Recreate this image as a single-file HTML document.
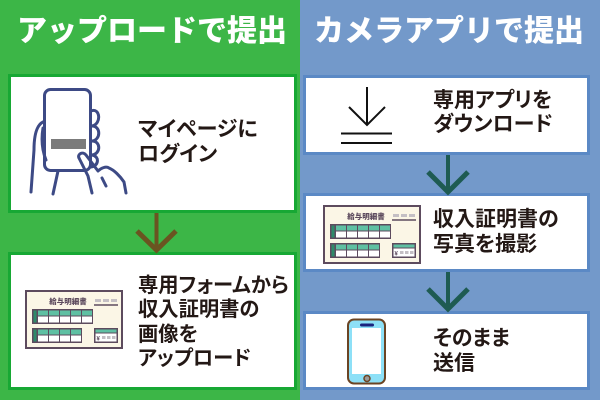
<!DOCTYPE html>
<html><head><meta charset="utf-8">
<style>
*{margin:0;padding:0;box-sizing:border-box}
html,body{width:600px;height:400px;overflow:hidden}
body{position:relative;font-family:"Liberation Sans","Noto Sans CJK JP",sans-serif}
.bgL{position:absolute;left:0;top:0;width:300px;height:400px;background:#3cb647}
.bgR{position:absolute;left:300px;top:0;width:300px;height:400px;background:#7399ca}
.title{position:absolute;top:17px;width:300px;text-align:center;color:#fff;font-size:30px;line-height:30px;font-weight:900;white-space:nowrap}
.box{position:absolute;background:#fff;border:3px solid #17a834}
.boxR{border-color:#5b89c5}
.t{position:absolute;color:#231815;font-size:21px;line-height:24.5px;font-weight:700;white-space:nowrap;font-feature-settings:"palt"}
svg{position:absolute;left:0;top:0}
</style></head><body>
<div class="bgL"></div>
<div class="bgR"></div>
<div class="title" style="left:2px">アップロードで提出</div>
<div class="title" style="left:299px">カメラアプリで提出</div>

<div class="box" style="left:8px;top:74px;width:289px;height:139px"></div>
<div class="box" style="left:8px;top:252px;width:289px;height:138px"></div>
<div class="box boxR" style="left:303px;top:75px;width:287px;height:80px"></div>
<div class="box boxR" style="left:303px;top:193px;width:287px;height:79px"></div>
<div class="box boxR" style="left:303px;top:311px;width:287px;height:79px"></div>

<div class="t" style="left:138px;top:118px">マイページに<br>ログイン</div>
<div class="t" style="left:138px;top:273.5px;font-size:20.3px">専用フォームから<br>収入証明書の<br>画像を<br>アップロード</div>
<div class="t" style="left:433px;top:88.5px">専用アプリを<br>ダウンロード</div>
<div class="t" style="left:433px;top:208px">収入証明書の<br>写真を撮影</div>
<div class="t" style="left:433px;top:327px">そのまま<br>送信</div>

<svg width="600" height="400" viewBox="0 0 600 400">
<defs>
<g id="slip">
<rect x="1" y="1" width="96" height="57" fill="#fbf6e6" stroke="#5d4b5e" stroke-width="2"/>
<text x="43" y="14" text-anchor="middle" font-family="Noto Sans CJK JP, sans-serif" font-size="7.5" font-weight="900" fill="#5d4b5e">給与明細書</text>
<rect x="70" y="9" width="6" height="3" fill="#c4bfc4"/>
<rect x="78" y="9" width="6" height="3" fill="#c4bfc4"/>
<rect x="86" y="9" width="6" height="3" fill="#c4bfc4"/>
<line x1="69" y1="15" x2="93" y2="15" stroke="#5d4b5e" stroke-width="1.5"/>
<rect x="7" y="19" width="61" height="15" fill="#5d4b5e"/>
<rect x="8.5" y="20.5" width="3" height="12" fill="#2e8a6a"/>
<g fill="#5fc0a3">
<rect x="13" y="20.5" width="10" height="5"/><rect x="24" y="20.5" width="10" height="5"/><rect x="35" y="20.5" width="10" height="5"/><rect x="46" y="20.5" width="10" height="5"/><rect x="57" y="20.5" width="10" height="5"/>
</g>
<g fill="#fff">
<rect x="13" y="26.5" width="10" height="6"/><rect x="24" y="26.5" width="10" height="6"/><rect x="35" y="26.5" width="10" height="6"/><rect x="46" y="26.5" width="10" height="6"/><rect x="57" y="26.5" width="10" height="6"/>
</g>
<rect x="7" y="38" width="50" height="15" fill="#5d4b5e"/>
<rect x="8.5" y="39.5" width="3" height="12" fill="#2e8a6a"/>
<g fill="#5fc0a3">
<rect x="13" y="39.5" width="10" height="5"/><rect x="24" y="39.5" width="10" height="5"/><rect x="35" y="39.5" width="10" height="5"/><rect x="46" y="39.5" width="10" height="5"/>
</g>
<g fill="#fff">
<rect x="13" y="45.5" width="10" height="6"/><rect x="24" y="45.5" width="10" height="6"/><rect x="35" y="45.5" width="10" height="6"/><rect x="46" y="45.5" width="10" height="6"/>
</g>
<rect x="69" y="38" width="24" height="15" fill="#5d4b5e"/>
<rect x="70.5" y="39.5" width="21" height="3" fill="#5fc0a3"/>
<rect x="70.5" y="43.5" width="21" height="8" fill="#fff"/>
<text x="71.5" y="50.5" font-family="Liberation Sans, sans-serif" font-size="6" font-weight="700" fill="#5d4b5e">¥</text>
<rect x="77" y="46" width="3.5" height="3" fill="#c4bfc4"/>
<rect x="82" y="46" width="3.5" height="3" fill="#c4bfc4"/>
<rect x="87" y="46" width="3.5" height="3" fill="#c4bfc4"/>
</g>
</defs>

<!-- phone in hand -->
<g fill="none" stroke="#3d4a85" stroke-width="3" stroke-linecap="round" stroke-linejoin="round">
<rect x="44.5" y="89.5" width="46" height="81" rx="6" fill="#fff"/>
<path d="M91,111 C100,107 102,124 92,126 C101,126 101,140 92,141 C101,141 101,154 92,155 C100,156 99,167 90,167"/>
<path d="M43,122 C37,125 34,135 34,150 L31,192"/>
<path d="M43,128 C41,140 42,150 46,160"/>
<path d="M58,171 L53,194"/>
<path d="M79,158 C77,154 83,151 86,155 L98,171 C101,168 106,166 109,168 C114,170 120,176 124,182 L126,193"/>
<path d="M79,158 L88,176 L92,193"/>
<path d="M102,178 L106,186"/>
</g>
<rect x="51" y="139" width="35" height="10" fill="#7b7b7b"/>

<!-- payslips -->
<use href="#slip" x="25" y="290"/>
<use href="#slip" x="323" y="205"/>

<!-- download icon -->
<g fill="none" stroke="#111" stroke-width="2">
<line x1="367" y1="87" x2="367" y2="125"/>
<polyline points="349,107 367,125 385,107"/>
<line x1="341" y1="133.5" x2="392" y2="133.5"/>
<line x1="341" y1="143" x2="392" y2="143"/>
</g>

<!-- smartphone -->
<rect x="348" y="319.5" width="37" height="64" rx="6" fill="#8de0f7" stroke="#6b4423" stroke-width="2"/>
<rect x="352" y="328" width="29" height="46" fill="#fff"/>
<rect x="360" y="323.5" width="14" height="3" rx="1.5" fill="#1a237e"/>
<circle cx="367" cy="378.5" r="3" fill="#9a9a9a" stroke="#6b4423" stroke-width="1.5"/>

<!-- arrows -->
<g fill="none" stroke="#6a5421" stroke-width="5">
<line x1="156.5" y1="213" x2="156.5" y2="249" stroke-width="4"/>
<polyline points="137,231 156.5,250 176,231"/>
</g>
<g fill="none" stroke="#1e5b52" stroke-width="5">
<line x1="448" y1="155" x2="448" y2="191" stroke-width="4"/>
<polyline points="428,172 448,192 468,172"/>
<line x1="448" y1="272" x2="448" y2="308" stroke-width="4"/>
<polyline points="428,289 448,309 468,289"/>
</g>
</svg>
</body></html>
